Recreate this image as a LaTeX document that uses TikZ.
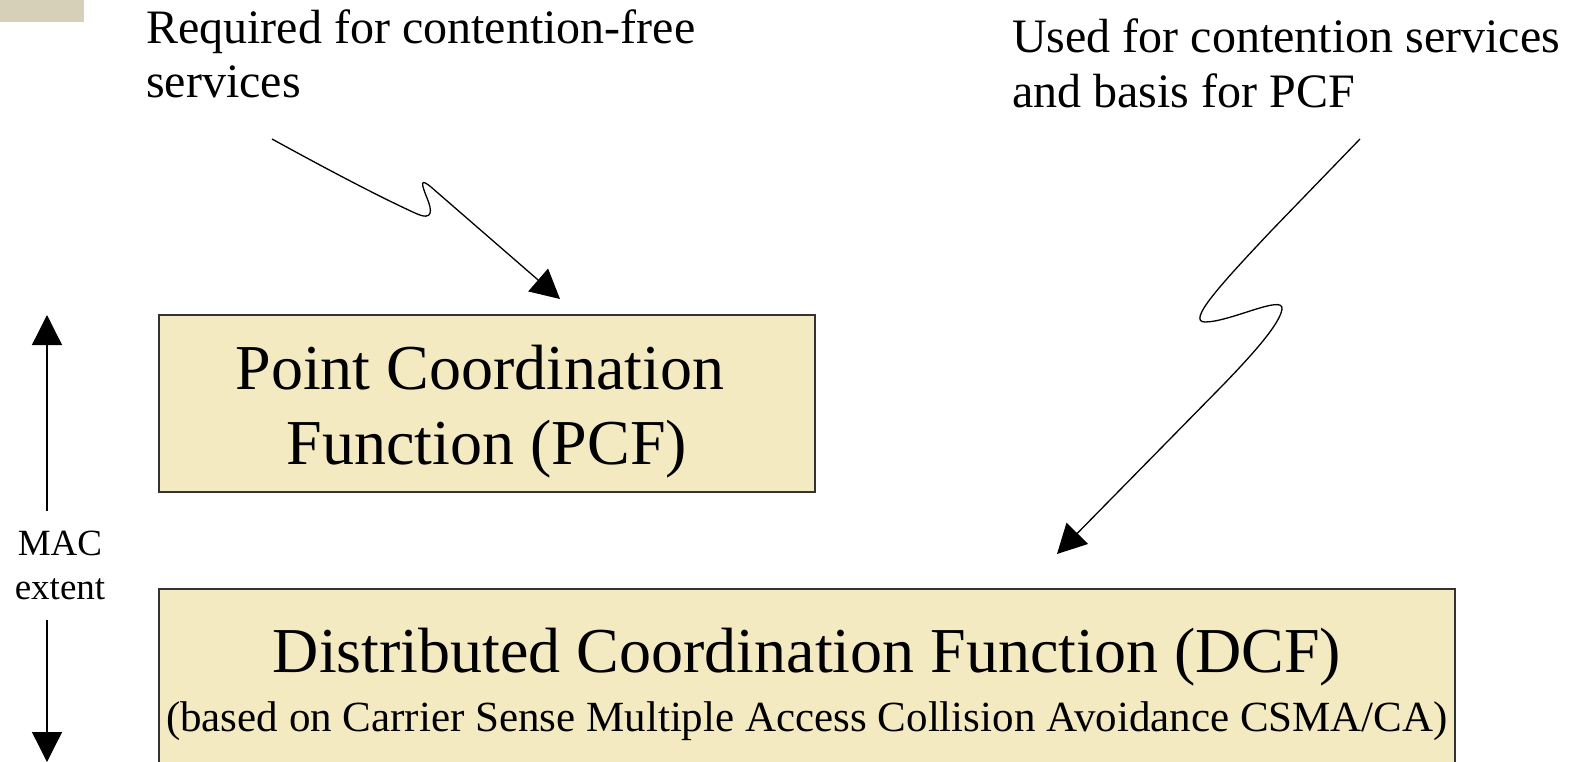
\documentclass[tikz,border=0pt]{standalone}
\usepackage{fontspec}
\setmainfont{Liberation Serif}
\usetikzlibrary{arrows.meta}
\definecolor{boxfill}{HTML}{F3EAC2}
\definecolor{corner}{HTML}{D6D0B8}
\definecolor{boxline}{HTML}{333333}
\tikzset{
  lbl/.style={inner sep=0pt, anchor=base west, font=\fontsize{48}{55}\selectfont},
  big/.style={inner sep=0pt, anchor=base, font=\fontsize{64}{72}\selectfont},
  small/.style={inner sep=0pt, anchor=base, font=\fontsize{43}{48}\selectfont},
  mac/.style={inner sep=0pt, anchor=base, font=\fontsize{37}{42}\selectfont},
  fbox/.style={draw=boxline, line width=1.5pt, fill=boxfill},
  bolt/.style={line width=1.3pt, -{Triangle[length=29pt,width=30pt]}},
  ext/.style={line width=1.3pt, -{Triangle[length=30pt,width=30pt]}}
}
\begin{document}
\begin{tikzpicture}[x=1pt,y=-1pt]
\useasboundingbox (0,0) rectangle (1577,762);
\fill[corner] (0,0) rectangle (84,22);
% boxes
\draw[fbox] (159,315) rectangle (815,492);
\draw[fbox] (159,589) rectangle (1455,800);
% texts
\node[lbl] (req1) at (146,44) {Required for contention-free};
\node[lbl] (req2) at (146,98) {services};
\node[lbl] (used1) at (1012,53) {Used for contention services};
\node[lbl] (used2) at (1012,108) {and basis for PCF};
\node[big] (p1) at (480,389) {Point Coordination};
\node[big] (p2) at (487,464) {Function (PCF)};
\node[big] (d1) at (807,672) {Distributed Coordination Function (DCF)};
\node[small] (d2) at (807,731) {(based on Carrier Sense Multiple Access Collision Avoidance CSMA/CA)};
\node[mac] (m1) at (60,555) {MAC};
\node[mac] (m2) at (60,599) {extent};
% MAC extent arrows
\coordinate (upS) at (47,511);
\coordinate (upT) at (47,315);
\coordinate (dnS) at (47,620);
\coordinate (dnT) at (47,762);
\draw[ext] (upS) -- (upT);
\draw[ext] (dnS) -- (dnT);
% lightning arrows
\coordinate (b1s) at (272,139);
\coordinate (b1t) at (560,299);
\draw[bolt] (b1s) .. controls (332,172) and (382,198) .. (415,213)
  .. controls (434,222) and (432,210) .. (427,198)
  .. controls (421,183) and (420,178) .. (431,187) -- (b1t);
\coordinate (b2s) at (1360,139);
\coordinate (b2t) at (1057,554);
\draw[bolt] (b2s) -- (1272,230) .. controls (1222,283) and (1186,322) .. (1205,322)
  .. controls (1230,322) and (1284,294) .. (1282,309)
  .. controls (1280,324) and (1252,355) .. (1222,386) -- (b2t);
\end{tikzpicture}
\end{document}
